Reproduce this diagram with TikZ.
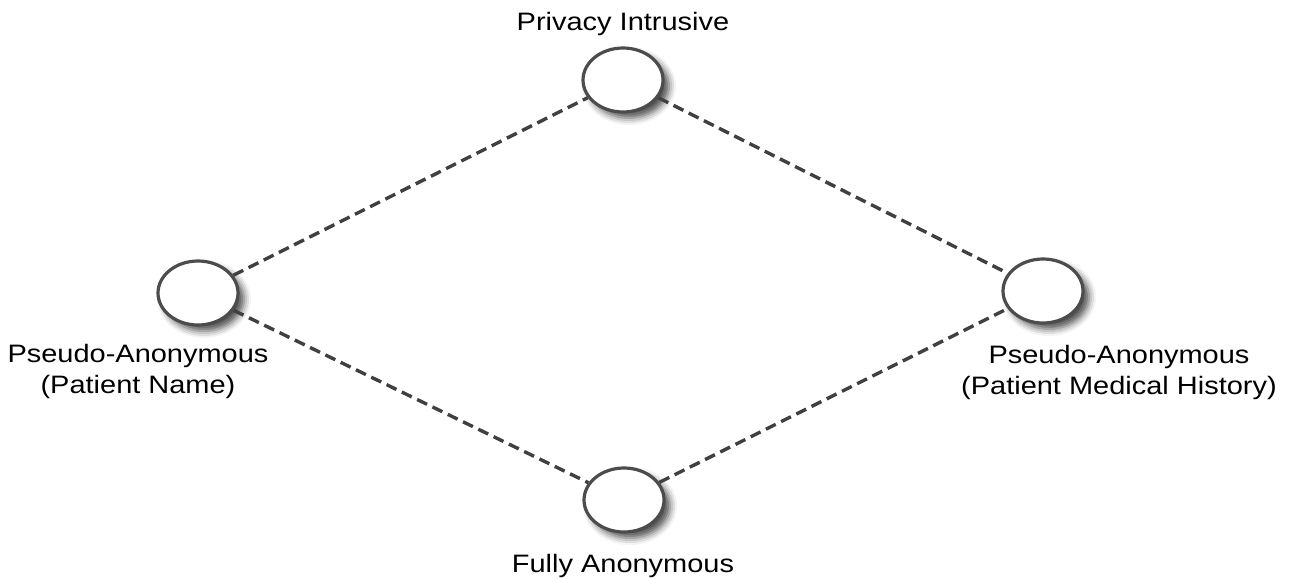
\documentclass[tikz,border=0pt]{standalone}
\usepackage{fontspec}
\setmainfont{Liberation Sans}[FakeStretch=1.15]
\usepackage{tikz, xcolor}
\usetikzlibrary{shapes,shadows.blur}

\definecolor{edgegray}{HTML}{404040}
\definecolor{rimgray}{HTML}{4C4C4C}

\begin{document}
\begin{tikzpicture}[x=0.5pt, y=-0.5pt]
\tikzstyle{vertexe}=[ellipse, draw=rimgray, line width=1.6pt, fill=white, minimum width=40pt, minimum height=32pt, inner sep=0pt, blur shadow={shadow xshift=3pt, shadow yshift=-3pt, shadow blur radius=3.5pt, shadow opacity=70}]
\tikzstyle{vertext}=[inner sep=0pt, font=\fontsize{12.6}{15.5}\selectfont, align=center]
\tikzstyle{drawstyle}=[edgegray, line width=1.7pt, dash pattern=on 5.5pt off 3pt]

\useasboundingbox (0,0) rectangle (1293,578);

\node[vertexe] (Ptop) at (623,80) {};
\node[vertexe] (Pleft) at (198,293) {};
\node[vertexe] (Pright) at (1043,291) {};
\node[vertexe] (Pbot) at (624,500) {};

\node[vertext, anchor=base] (Ltop) at (623,30) {Privacy Intrusive};
\node[vertext, anchor=north] (Lleft) at (138,344) {Pseudo-Anonymous\\(Patient Name)};
\node[vertext, anchor=north] (Lright) at (1119,345) {Pseudo-Anonymous\\(Patient Medical History)};
\node[vertext, anchor=base] (Lbot) at (623,572) {Fully Anonymous};

\draw[drawstyle] (Pleft) -- (Ptop);
\draw[drawstyle] (Ptop) -- (Pright);
\draw[drawstyle] (Pleft) -- (Pbot);
\draw[drawstyle] (Pbot) -- (Pright);
\end{tikzpicture}
\end{document}
